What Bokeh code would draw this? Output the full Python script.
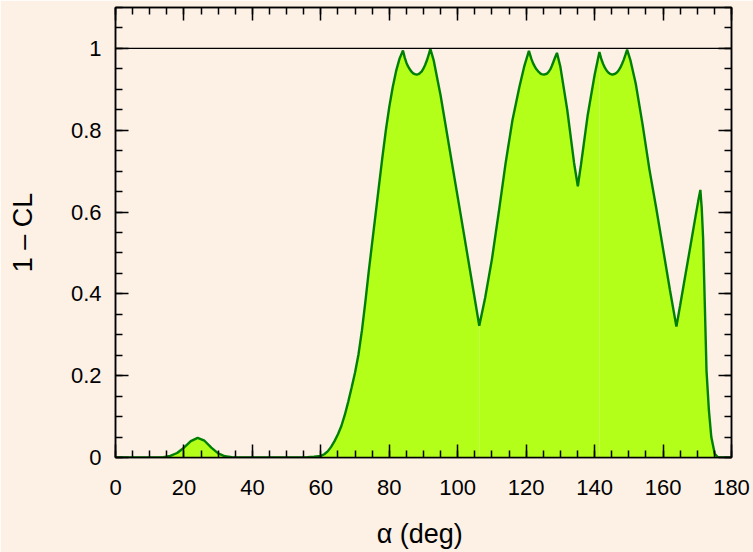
from bokeh.plotting import figure
from bokeh.models import Range1d, FixedTicker, LinearAxis, Span
from bokeh.embed import file_html
from bokeh.resources import INLINE

# 1 - CL scan as a function of the angle alpha (degrees)
alpha_deg = [0, 10, 14, 16, 18, 20, 22, 24, 26, 28, 30, 32, 34, 40, 50, 56, 58,
             60, 61, 62, 63, 64, 65, 66, 67, 68, 69, 70, 71, 72, 73, 74, 75, 76, 77,
             78, 79, 80, 81, 82, 83,
             84, 84.5, 85, 85.5, 86, 86.5, 87, 87.5, 88, 88.5, 89, 89.5, 90, 90.5,
             91, 91.5, 92, 93, 95, 98, 101, 104, 106.3,
             108, 110, 112, 114, 116, 118, 119.5,
             120.8, 121.5, 122, 122.5, 123, 123.5, 124, 124.5, 125.2, 126, 126.5,
             127, 127.5, 128, 128.5, 129, 130, 132, 134, 135.1, 136, 138, 140,
             141.4, 142, 142.5, 143, 143.5, 144, 144.5, 145.2, 146, 146.5, 147,
             147.5, 148, 148.5, 149, 149.5, 150.5, 152, 154, 156, 158,
             160, 162, 163.9, 165, 166.5, 168, 169.5, 170.3, 170.9, 171.3, 171.7,
             172.2, 172.7, 173.4, 174.1, 175.1, 176.1, 178, 180]
one_minus_cl = [0, 0, 0.001, 0.004, 0.011, 0.024, 0.040, 0.048, 0.041, 0.024,
                0.010, 0.003, 0.001, 0, 0, 0.001, 0.002,
                0.004, 0.008, 0.015, 0.026, 0.04, 0.057, 0.077, 0.104, 0.136, 0.171,
                0.208, 0.252, 0.31, 0.38, 0.455, 0.525, 0.595, 0.665,
                0.735, 0.80, 0.857, 0.905, 0.945, 0.975,
                0.995, 0.978, 0.965, 0.956, 0.949, 0.943, 0.939, 0.937, 0.936, 0.937,
                0.940, 0.944, 0.951, 0.960,
                0.971, 0.984, 0.999, 0.97, 0.885, 0.735, 0.587, 0.437, 0.322,
                0.39, 0.485, 0.60, 0.72, 0.825, 0.905, 0.958,
                0.994, 0.975, 0.964, 0.956, 0.949, 0.944, 0.940, 0.937, 0.936, 0.938,
                0.942, 0.948, 0.957, 0.968, 0.979, 0.989, 0.955, 0.85, 0.72, 0.663,
                0.715, 0.838, 0.935,
                0.991, 0.973, 0.962, 0.953, 0.946, 0.941, 0.938, 0.936, 0.938, 0.941,
                0.946, 0.953, 0.962, 0.972, 0.984, 0.997, 0.97, 0.915, 0.815, 0.705, 0.61,
                0.51, 0.41, 0.32, 0.372, 0.445, 0.517, 0.59, 0.628, 0.654, 0.61, 0.537,
                0.375, 0.212, 0.115, 0.05, 0.009, 0, 0, 0]

x_major = [0, 20, 40, 60, 80, 100, 120, 140, 160, 180]
x_minor = [i * 5 for i in range(37)]
y_major = [0, 0.2, 0.4, 0.6, 0.8, 1.0]
y_minor = [round(i * 0.05, 2) for i in range(23)]
y_labels = {0: "0", 0.2: "0.2", 0.4: "0.4", 0.6: "0.6", 0.8: "0.8", 1.0: "1"}

BG = "#fdf1e6"
FILL = "#b3ff1a"
LINE = "#008000"
FONT = "Liberation Sans"

p = figure(width=753, height=552, x_range=Range1d(0, 180), y_range=Range1d(0, 1.1),
           output_backend="svg", toolbar_location=None,
           background_fill_color=BG, border_fill_color=BG,
           min_border_left=115, min_border_right=22,
           min_border_top=7, min_border_bottom=95)
p.grid.visible = False
p.outline_line_color = "black"
p.outline_line_width = 1.5

# shaded region, split at the two local seams of the scan
cuts = [0, alpha_deg.index(106.3), alpha_deg.index(141.4), len(alpha_deg) - 1]
for a, b in zip(cuts[:-1], cuts[1:]):
    p.varea(x=alpha_deg[a:b + 1], y1=0, y2=one_minus_cl[a:b + 1],
            fill_color=FILL, fill_alpha=1.0)
p.line(alpha_deg, one_minus_cl, line_color=LINE, line_width=2.4)

p.add_layout(Span(location=1.0, dimension="width", line_color="black", line_width=1.3))


def style(ax, xdir):
    ax.ticker = FixedTicker(ticks=x_major if xdir else y_major,
                            minor_ticks=x_minor if xdir else y_minor)
    ax.axis_line_color = "black"
    ax.axis_line_width = 1.5
    ax.major_tick_line_width = 1.5
    ax.minor_tick_line_width = 1.5
    ax.major_tick_in = 13
    ax.major_tick_out = 0
    ax.minor_tick_in = 7
    ax.minor_tick_out = 0
    ax.major_label_text_font = FONT
    ax.major_label_text_font_size = "22px"
    ax.major_label_text_color = "black"
    ax.axis_label_text_color = "black"
    ax.axis_label_text_font = FONT
    ax.axis_label_text_font_size = "27px"
    ax.axis_label_text_font_style = "normal"


xa = p.xaxis[0]
ya = p.yaxis[0]
style(xa, True)
style(ya, False)
xa.major_label_standoff = 22
ya.major_label_standoff = 14
ya.major_label_overrides = y_labels
ya.axis_label = "1 \u2013 CL"
ya.axis_label_standoff = 30
xa.axis_label = "\u03b1  (deg)"
xa.axis_label_standoff = 21

for loc, xdir in (("above", True), ("right", False)):
    ax = LinearAxis()
    style(ax, xdir)
    ax.major_label_text_font_size = "0px"
    ax.major_label_standoff = 0
    ax.axis_label_standoff = 0
    ax.major_label_overrides = {t: "" for t in (x_major if xdir else y_major)}
    p.add_layout(ax, loc)

open("out.html", "w").write(file_html(p, INLINE))
